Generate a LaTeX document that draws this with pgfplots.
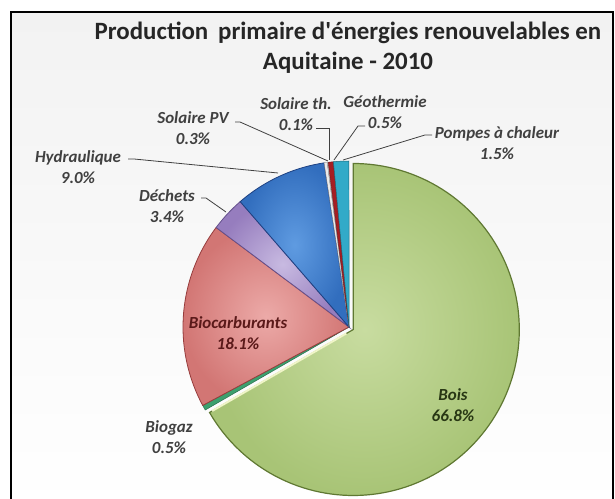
\documentclass[border=0pt]{standalone}
\usepackage{pgfplots}
\pgfplotsset{compat=1.18}
\usepackage{fontspec}
\setmainfont{Carlito}[Ligatures=TeXOff]
\definecolor{boisI}{RGB}{200,220,160}
\definecolor{boisO}{RGB}{168,196,118}
\definecolor{boisD}{RGB}{95,120,50}
\definecolor{biogaz}{RGB}{60,160,110}
\definecolor{biocI}{RGB}{236,170,168}
\definecolor{biocO}{RGB}{210,118,116}
\definecolor{biocD}{RGB}{150,60,60}
\definecolor{dechI}{RGB}{200,186,225}
\definecolor{dechO}{RGB}{150,125,190}
\definecolor{dechD}{RGB}{100,80,140}
\definecolor{hydI}{RGB}{95,155,225}
\definecolor{hydO}{RGB}{50,110,190}
\definecolor{hydD}{RGB}{30,65,130}
\definecolor{solpv}{RGB}{235,235,235}
\definecolor{solth}{RGB}{200,200,200}
\definecolor{geo}{RGB}{165,30,35}
\definecolor{pac}{RGB}{50,170,200}
\definecolor{lbl}{RGB}{64,64,64}
\definecolor{bgg}{RGB}{242,242,242}
\definecolor{hl}{RGB}{240,245,200}
\definecolor{biocT}{RGB}{90,25,25}
\definecolor{boisT}{RGB}{40,55,20}
\begin{document}
\begin{tikzpicture}[x=1bp,y=1bp]
\useasboundingbox (0,0) rectangle (615,499);
\clip (0,0) rectangle (615,499);
\fill[white] (0,0) rectangle (615,499);
\shade[top color=bgg, bottom color=white] (11,-10) rectangle (613,487);
\draw[line width=2bp, black] (11,-10) rectangle (613,487);
% values (percent), total 100.2
\pgfmathsetmacro\angO{90}
\pgfmathsetmacro\angA{\angO-66.8/100.2*360}% Bois
\pgfmathsetmacro\angB{\angA-0.5/100.2*360}% Biogaz
\pgfmathsetmacro\angC{\angB-18.1/100.2*360}% Biocarburants
\pgfmathsetmacro\angD{\angC-3.4/100.2*360}% Dechets
\pgfmathsetmacro\angE{\angD-9.0/100.2*360}% Hydraulique
\pgfmathsetmacro\angF{\angE-0.3/100.2*360}% Solaire PV
\pgfmathsetmacro\angG{\angF-0.1/100.2*360}% Solaire th.
\pgfmathsetmacro\angH{\angG-0.5/100.2*360}% Geothermie
\pgfmathsetmacro\angI{\angH-1.5/100.2*360}% Pompes a chaleur
\pgfmathsetmacro\hax{353.3+8*cos(\angA)}
\pgfmathsetmacro\hay{329.5-8*sin(\angA)}
\pgfmathsetmacro\hbx{353.3+163*cos(\angA)}
\pgfmathsetmacro\hby{329.5-163*sin(\angA)}
\begin{axis}[at={(0,0)}, anchor=south west, scale only axis,
  width=615bp, height=499bp, xmin=0, xmax=615, ymin=0, ymax=499,
  y dir=reverse, hide axis, clip=false]
% Bois (exploded)
\addplot[inner color=boisI, outer color=boisO, draw=boisD, line width=1.2pt,
  domain=\angA:\angO, samples=120, variable=\t]
  ({353.3+166*cos(\t)}, {329.5-166*sin(\t)}) -- (axis cs:353.3,329.5) -- cycle;
\addplot[fill=biogaz, draw=biogaz!70!black, line width=0.5pt,
  domain=\angB:\angA, samples=5, variable=\t]
  ({349+166*cos(\t)}, {327-166*sin(\t)}) -- (axis cs:349,327) -- cycle;
\addplot[inner color=biocI, outer color=biocO, draw=biocD, line width=0.8pt,
  domain=\angC:\angB, samples=60, variable=\t]
  ({349+166*cos(\t)}, {327-166*sin(\t)}) -- (axis cs:349,327) -- cycle;
\addplot[inner color=dechI, outer color=dechO, draw=dechD, line width=0.8pt,
  domain=\angD:\angC, samples=20, variable=\t]
  ({349+166*cos(\t)}, {327-166*sin(\t)}) -- (axis cs:349,327) -- cycle;
\addplot[inner color=hydI, outer color=hydO, draw=hydD, line width=0.8pt,
  domain=\angE:\angD, samples=40, variable=\t]
  ({349+166*cos(\t)}, {327-166*sin(\t)}) -- (axis cs:349,327) -- cycle;
\addplot[fill=solpv, draw=gray, line width=0.3pt,
  domain=\angF:\angE, samples=5, variable=\t]
  ({349+166*cos(\t)}, {327-166*sin(\t)}) -- (axis cs:349,327) -- cycle;
\addplot[fill=solth, draw=gray, line width=0.2pt,
  domain=\angG:\angF, samples=3, variable=\t]
  ({349+166*cos(\t)}, {327-166*sin(\t)}) -- (axis cs:349,327) -- cycle;
\addplot[fill=geo, draw=geo!70!black, line width=0.4pt,
  domain=\angH:\angG, samples=5, variable=\t]
  ({349+166*cos(\t)}, {327-166*sin(\t)}) -- (axis cs:349,327) -- cycle;
\addplot[fill=pac, draw=pac!60!black, line width=0.5pt,
  domain=\angI:\angH, samples=10, variable=\t]
  ({349+166*cos(\t)}, {327-166*sin(\t)}) -- (axis cs:349,327) -- cycle;
% bevel highlight on the Bois edge facing Biogaz
\draw[line width=2pt, color=hl] (axis cs:\hax,\hay) -- (axis cs:\hbx,\hby);
% leader lines
\draw[lbl, line width=0.8pt] (axis cs:235,122) -- (axis cs:240,122) -- (axis cs:328,161);
\draw[lbl, line width=0.8pt] (axis cs:316,128) -- (axis cs:329,128) -- (axis cs:329,160);
\draw[lbl, line width=0.8pt] (axis cs:365,126) -- (axis cs:358,126) -- (axis cs:334,160);
\draw[lbl, line width=0.8pt] (axis cs:432,135) -- (axis cs:425,135) -- (axis cs:343,160);
\draw[lbl, line width=0.8pt] (axis cs:128,159) -- (axis cs:134,159) -- (axis cs:278,173);
\draw[lbl, line width=0.8pt] (axis cs:201,198) -- (axis cs:206,198) -- (axis cs:226,212);
% title
\node[align=center, font=\fontsize{25}{30}\selectfont\bfseries, text=black!85]
  at (axis cs:348,48) {Production\,\ primaire d'énergies renouvelables en\\Aquitaine - 2010};
% labels
\tikzset{lab/.style={align=center, font=\fontsize{17}{21}\selectfont\bfseries\itshape, text=lbl, inner sep=0pt}}
\node[lab] at (axis cs:193,128.5) {Solaire PV\\0.3\%};
\node[lab] at (axis cs:296,114) {Solaire th.\\0.1\%};
\node[lab] at (axis cs:385,112.5) {Géothermie\\0.5\%};
\node[lab] at (axis cs:497,143) {Pompes à chaleur\\1.5\%};
\node[lab] at (axis cs:78,167) {Hydraulique\\9.0\%};
\node[lab] at (axis cs:167,206.5) {Déchets\\3.4\%};
\node[lab, text=biocT] at (axis cs:238,333) {Biocarburants\\18.1\%};
\node[lab] at (axis cs:169,437) {Biogaz\\0.5\%};
\node[lab, text=boisT] at (axis cs:453,405) {Bois\\66.8\%};
\end{axis}
\end{tikzpicture}
\end{document}
